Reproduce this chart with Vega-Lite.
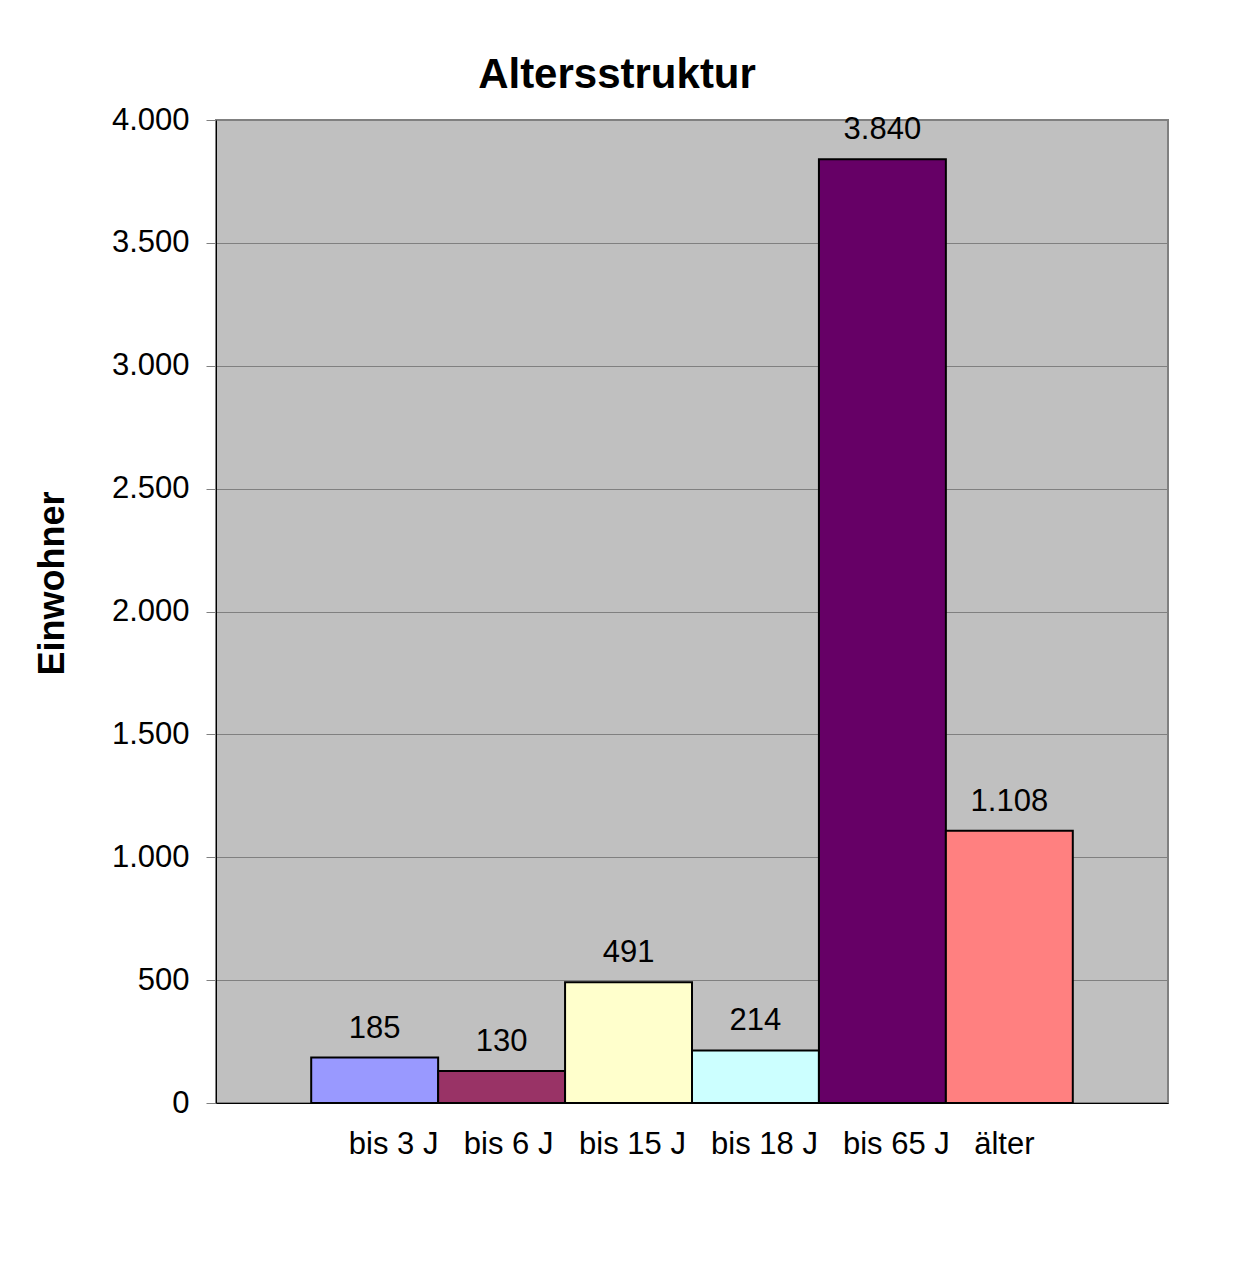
{
  "$schema": "https://vega.github.io/schema/vega-lite/v6.json",
  "width": 952,
  "height": 983,
  "autosize": "none",
  "padding": {"left": 216, "top": 120, "right": 90, "bottom": 170},
  "background": "white",
  "config": {
    "font": "Liberation Sans",
    "locale": {"number": {"decimal": ",", "thousands": ".", "grouping": [3], "currency": ["", " €"]}},
    "view": {"fill": "#C0C0C0", "stroke": "#808080", "strokeWidth": 2}
  },
  "title": {
    "text": "Altersstruktur",
    "fontSize": 42,
    "fontWeight": "bold",
    "font": "Liberation Sans",
    "color": "#000000",
    "anchor": "middle",
    "dx": -75,
    "baseline": "alphabetic",
    "offset": -26
  },
  "data": {
    "values": [
      {"Altersgruppe": "bis 3 J", "Einwohner": 185},
      {"Altersgruppe": "bis 6 J", "Einwohner": 130},
      {"Altersgruppe": "bis 15 J", "Einwohner": 491},
      {"Altersgruppe": "bis 18 J", "Einwohner": 214},
      {"Altersgruppe": "bis 65 J", "Einwohner": 3840},
      {"Altersgruppe": "älter", "Einwohner": 1108}
    ]
  },
  "encoding": {
    "x": {
      "field": "Altersgruppe",
      "type": "nominal",
      "sort": null,
      "scale": {"paddingInner": 0, "paddingOuter": 0.75},
      "axis": {
        "title": null,
        "labelAngle": 0,
        "labelFontSize": 31,
        "labelColor": "#000000",
        "labelFont": "Liberation Sans",
        "ticks": false,
        "labelPadding": 26,
        "domainColor": "#000000",
        "domainWidth": 1,
        "labelOffset": {
          "condition": [
            {"test": "datum.value == 'bis 3 J'", "value": 19},
            {"test": "datum.value == 'bis 6 J'", "value": 7},
            {"test": "datum.value == 'bis 15 J'", "value": 4},
            {"test": "datum.value == 'bis 18 J'", "value": 9},
            {"test": "datum.value == 'bis 65 J'", "value": 14}
          ],
          "value": -5
        }
      }
    },
    "y": {
      "field": "Einwohner",
      "type": "quantitative",
      "scale": {"domain": [0, 4000], "nice": false},
      "axis": {
        "values": [0, 500, 1000, 1500, 2000, 2500, 3000, 3500, 4000],
        "format": ",d",
        "title": "Einwohner",
        "titleFontSize": 36,
        "titleFontWeight": "bold",
        "titleFont": "Liberation Sans",
        "titleColor": "#000000",
        "titleAngle": 270,
        "titleBaseline": "alphabetic",
        "titleAlign": "center",
        "titleX": -153,
        "titleY": 463,
        "labelFontSize": 31,
        "labelFont": "Liberation Sans",
        "labelColor": "#000000",
        "labelPadding": 17,
        "tickSize": 10,
        "tickColor": "#808080",
        "domainColor": "#000000",
        "gridColor": "#808080",
        "gridWidth": 1
      }
    }
  },
  "layer": [
    {
      "mark": {"type": "bar", "stroke": "#000000", "strokeWidth": 2},
      "encoding": {
        "color": {
          "field": "Altersgruppe",
          "type": "nominal",
          "scale": {
            "domain": ["bis 3 J", "bis 6 J", "bis 15 J", "bis 18 J", "bis 65 J", "älter"],
            "range": ["#9999FF", "#993366", "#FFFFCC", "#CCFFFF", "#660066", "#FF8080"]
          },
          "legend": null
        }
      }
    },
    {
      "mark": {"type": "text", "baseline": "alphabetic", "dy": -20, "fontSize": 31, "font": "Liberation Sans", "color": "#000000"},
      "encoding": {
        "text": {"field": "Einwohner", "type": "quantitative", "format": ",d"}
      }
    }
  ]
}
